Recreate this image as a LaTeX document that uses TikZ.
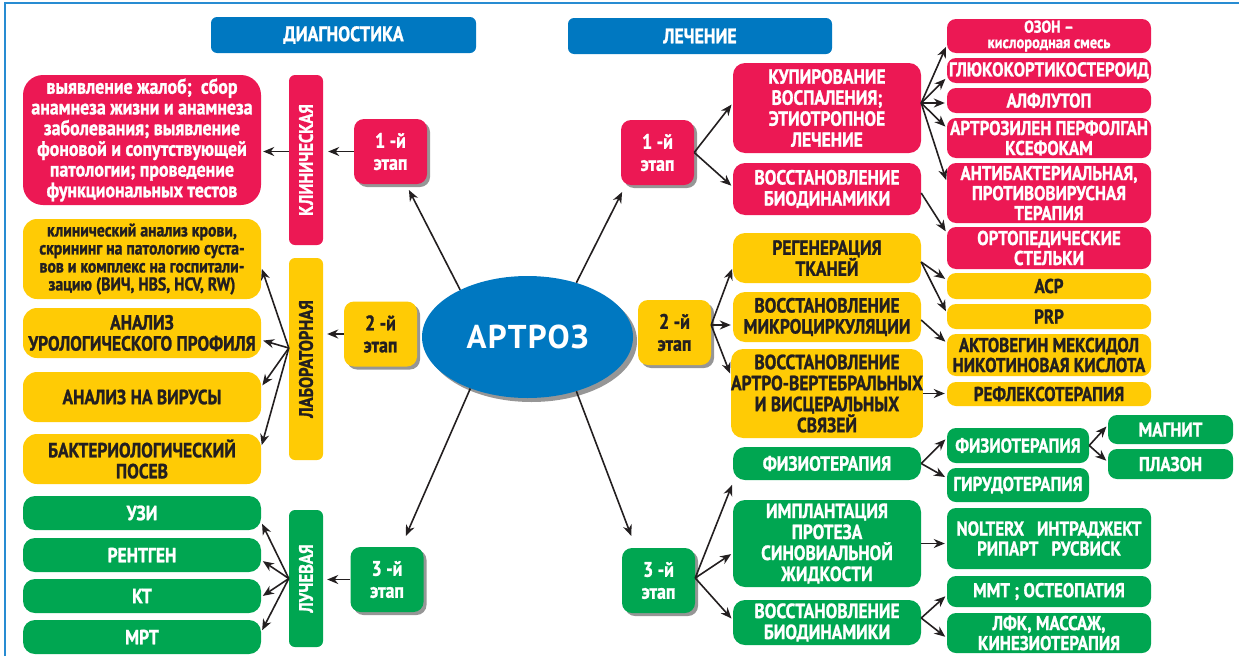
\documentclass[tikz,border=0pt]{standalone}
\usepackage{fontspec}
\setmainfont{PT Sans}[FakeStretch=0.85, BoldFeatures={FakeBold=1.2}]
\newfontfamily\widefont{PT Sans}[LetterSpace=4]
\usepackage{graphicx}
\usepackage{tikz}
\usetikzlibrary{arrows.meta,positioning,calc,shadows,shapes.geometric}
\definecolor{artred}{RGB}{236,24,84}
\definecolor{artyellow}{RGB}{255,203,5}
\definecolor{artgreen}{RGB}{0,166,81}
\definecolor{artblue}{RGB}{0,120,193}
\definecolor{artframe}{RGB}{40,140,210}
\definecolor{artdark}{RGB}{35,31,32}
\definecolor{shadowgray}{RGB}{150,150,150}
\tikzset{
  tbox/.style={
    rectangle, rounded corners=10pt, inner sep=0pt, align=center,
    font=\bfseries\fontsize{20.5}{21}\selectfont
  },
  redbox/.style={tbox, fill=artred, text=white},
  yelbox/.style={tbox, fill=artyellow, text=artdark},
  grnbox/.style={tbox, fill=artgreen, text=white},
  hdrbox/.style={
    rectangle, rounded corners=6pt, fill=artblue, text=white, inner sep=0pt,
    font=\bfseries\fontsize{21}{22}\selectfont
  },
  stagebox/.style={
    rectangle, rounded corners=10pt, minimum width=73pt, minimum height=65pt,
    inner sep=0pt, align=center, font=\bfseries\fontsize{21}{22}\selectfont,
    drop shadow={shadow xshift=3pt, shadow yshift=-3pt, fill=shadowgray, opacity=1}
  },
  vbar/.style={
    rectangle, rounded corners=6pt, minimum width=34pt, inner sep=0pt,
    font=\bfseries\fontsize{19.5}{20}\selectfont
  },
  colbox/.style={minimum width=188pt, rounded corners=12pt},
  sidebox/.style={minimum width=204pt, rounded corners=9pt, font=\bfseries\fontsize{20}{20}\selectfont},
  arr/.style={-{Stealth[length=11pt,width=9pt,inset=3.5pt]}, line width=1.6pt, draw=artdark, shorten >=2pt}
}
\begin{document}
\begin{tikzpicture}[x=1pt,y=-1pt]
\useasboundingbox (0,0) rectangle (1239,656);

% ---- frame ----
\draw[artframe, line width=2.5pt] (5,656) -- (5,3) -- (1239,3);

% ---- headers ----
\node[hdrbox, minimum width=265pt, minimum height=36pt] (Diag) at (343.5,35) {ДИАГНОСТИКА};
\node[hdrbox, minimum width=264pt, minimum height=36pt] (Treat) at (700,36) {ЛЕЧЕНИЕ};

% ---- Artroz (center) ----
\node[ellipse, fill=artblue, text=white, minimum width=211pt, minimum height=122pt, inner sep=0pt,
  drop shadow={shadow xshift=4pt, shadow yshift=-4pt, fill=shadowgray, opacity=1},
  font=\widefont\bfseries\fontsize{33}{34}\selectfont] (Artroz) at (527.5,337) {АРТРОЗ};

% ---- diagnostic stages ----
\node[stagebox, fill=artred, text=white] (StageDA) at (390.5,151.5) {1 -й\\этап};
\node[stagebox, fill=artyellow, text=artdark] (StageDB) at (380.5,334) {2 -й\\этап};
\node[stagebox, fill=artgreen, text=white] (StageDC) at (387,579.5) {3 -й\\этап};

\node[vbar, fill=artred, text=white, minimum height=170pt] (ClinBar) at (306,160) {\rotatebox{90}{КЛИНИЧЕСКАЯ}};
\node[vbar, fill=artyellow, text=artdark, minimum height=202pt] (LabBar) at (306,359) {\rotatebox{90}{ЛАБОРАТОРНАЯ}};
\node[vbar, fill=artgreen, text=white, minimum height=137pt] (RayBar) at (306,578.5) {\rotatebox{90}{ЛУЧЕВАЯ}};

\node[redbox, minimum width=238pt, minimum height=130pt, rounded corners=20pt,
  font=\bfseries\fontsize{21}{20.7}\selectfont] (Clin) at (142,140) {
  выявление жалоб;\ \ сбор\\
  анамнеза жизни и анамнеза\\
  заболевания; выявление\\
  фоновой и сопутствующей\\
  патологии; проведение\\
  функциональных тестов};

\node[yelbox, minimum width=238pt, minimum height=80pt, rounded corners=14pt,
  font=\bfseries\fontsize{18.5}{18}\selectfont] (LabA) at (142,259) {
  клинический анализ крови,\\
  скрининг на патологию суста-\\
  вов и комплекс на госпитали-\\
  зацию (ВИЧ, HBS, HCV, RW)};
\node[yelbox, minimum width=238pt, minimum height=50pt, rounded corners=14pt] (LabB) at (142,333) {АНАЛИЗ\\УРОЛОГИЧЕСКОГО ПРОФИЛЯ};
\node[yelbox, minimum width=238pt, minimum height=50pt, rounded corners=14pt] (LabC) at (142,397) {АНАЛИЗ НА ВИРУСЫ};
\node[yelbox, minimum width=238pt, minimum height=50pt, rounded corners=14pt] (LabD) at (142,459) {БАКТЕРИОЛОГИЧЕСКИЙ\\ПОСЕВ};

\node[grnbox, minimum width=238pt, minimum height=34pt, rounded corners=12pt] (RayA) at (142,513) {УЗИ};
\node[grnbox, minimum width=238pt, minimum height=34pt, rounded corners=12pt] (RayB) at (142,555) {РЕНТГЕН};
\node[grnbox, minimum width=238pt, minimum height=34pt, rounded corners=12pt] (RayC) at (142,596) {КТ};
\node[grnbox, minimum width=238pt, minimum height=34pt, rounded corners=12pt] (RayD) at (142,637) {МРТ};

% ---- treatment stages ----
\node[stagebox, fill=artred, text=white] (StageTA) at (657.5,152.5) {1 -й\\этап};
\node[stagebox, fill=artyellow, text=artdark] (StageTB) at (674.5,332.5) {2 -й\\этап};
\node[stagebox, fill=artgreen, text=white] (StageTC) at (658.5,580.5) {3 -й\\этап};

\node[redbox, colbox, minimum height=90pt] (Kup) at (827,108) {КУПИРОВАНИЕ\\ВОСПАЛЕНИЯ;\\ЭТИОТРОПНОЕ\\ЛЕЧЕНИЕ};
\node[redbox, colbox, minimum height=52pt] (BioRed) at (827,189) {ВОССТАНОВЛЕНИЕ\\БИОДИНАМИКИ};
\node[yelbox, colbox, minimum height=50pt] (Regen) at (827,258) {РЕГЕНЕРАЦИЯ\\ТКАНЕЙ};
\node[yelbox, colbox, minimum height=50pt] (Micro) at (827,317) {ВОССТАНОВЛЕНИЕ\\МИКРОЦИРКУЛЯЦИИ};
\node[yelbox, colbox, minimum height=89pt] (ArtVis) at (827,393.5) {ВОССТАНОВЛЕНИЕ\\АРТРО-ВЕРТЕБРАЛЬНЫХ\\И ВИСЦЕРАЛЬНЫХ\\СВЯЗЕЙ};
\node[grnbox, colbox, minimum height=33pt] (PhysBig) at (827,463.5) {ФИЗИОТЕРАПИЯ};
\node[grnbox, colbox, minimum height=87pt] (Implant) at (827,543.5) {ИМПЛАНТАЦИЯ\\ПРОТЕЗА\\СИНОВИАЛЬНОЙ\\ЖИДКОСТИ};
\node[grnbox, colbox, minimum height=45pt] (BioGreen) at (827,622.5) {ВОССТАНОВЛЕНИЕ\\БИОДИНАМИКИ};

\node[redbox, sidebox, minimum height=34pt, font=\bfseries\fontsize{17}{15.5}\selectfont] (Ozone) at (1049,36) {ОЗОН –\\кислородная смесь};
\node[redbox, sidebox, minimum height=25pt] (Gluco) at (1049,70.5) {ГЛЮКОКОРТИКОСТЕРОИД};
\node[redbox, sidebox, minimum height=25pt] (Alflu) at (1049,100.5) {АЛФЛУТОП};
\node[redbox, sidebox, minimum height=40pt] (Artrozilen) at (1049,138) {АРТРОЗИЛЕН ПЕРФОЛГАН\\КСЕФОКАМ};
\node[redbox, sidebox, minimum height=60pt] (Antibac) at (1049,193) {АНТИБАКТЕРИАЛЬНАЯ,\\ПРОТИВОВИРУСНАЯ\\ТЕРАПИЯ};
\node[redbox, sidebox, minimum height=42pt] (Ortho) at (1049,248) {ОРТОПЕДИЧЕСКИЕ\\СТЕЛЬКИ};
\node[yelbox, sidebox, minimum height=26pt] (Acp) at (1049,286) {АСР};
\node[yelbox, sidebox, minimum height=25pt] (Prp) at (1049,316.5) {PRP};
\node[yelbox, sidebox, minimum height=42pt] (Actov) at (1049,355) {АКТОВЕГИН МЕКСИДОЛ\\НИКОТИНОВАЯ КИСЛОТА};
\node[yelbox, sidebox, minimum height=24pt] (Reflex) at (1049,394) {РЕФЛЕКСОТЕРАПИЯ};
\node[grnbox, sidebox, minimum width=142pt, minimum height=35pt] (PhysSmall) at (1018,445.5) {ФИЗИОТЕРАПИЯ};
\node[grnbox, sidebox, minimum width=142pt, minimum height=34pt] (Hirudo) at (1018,485) {ГИРУДОТЕРАПИЯ};
\node[grnbox, sidebox, minimum width=125pt, minimum height=29pt] (Magnet) at (1170.5,429.5) {МАГНИТ};
\node[grnbox, sidebox, minimum width=125pt, minimum height=30pt] (Plazon) at (1170.5,464) {ПЛАЗОН};
\node[grnbox, sidebox, minimum height=61pt] (Nolterx) at (1049,538.5) {NOLTERX\ \ \ ИНТРАДЖЕКТ\\РИПАРТ\ \ \ РУСВИСК};
\node[grnbox, sidebox, minimum height=31pt] (Mmt) at (1049,591.5) {ММТ ; ОСТЕОПАТИЯ};
\node[grnbox, sidebox, minimum height=40pt] (Lfk) at (1049,633) {ЛФК, МАССАЖ,\\КИНЕЗИОТЕРАПИЯ};

% ---- fan origins ----
\coordinate (LabFan) at ($(LabBar.west)+(0,-11)$);
\coordinate (KupFan) at ($(Kup.east)+(0,-5)$);
\coordinate (TBFan) at ($(StageTB.east)+(0,-7.5)$);
\coordinate (TCFan) at ($(StageTC.east)+(0,-2.5)$);
\coordinate (RegFan) at ($(Regen.east)+(0,4)$);
\coordinate (BioFan) at ($(BioGreen.east)+(0,-4.5)$);

% ---- from the center ----
\draw[arr] (Artroz.145) -- ($(StageDA.south)+(17.5,4)$);
\draw[arr] (Artroz.222) -- ($(StageDC.north)+(18,-9)$);
\draw[arr] (Artroz.48) -- ($(StageTA.south)+(-34.5,5)$);
\draw[arr] (Artroz.312) -- ($(StageTC.north)+(-26.5,-10)$);

% ---- diagnostics ----
\draw[arr, shorten >=5pt] (StageDA.west) -- (StageDA.west -| ClinBar.east);
\draw[arr] (ClinBar.west |- StageDA.west) -- (Clin.east |- StageDA.west);
\draw[arr, shorten >=4pt] (StageDB.west) -- (StageDB.west -| LabBar.east);
\draw[arr] (LabFan) -- ($(LabA.east)+(0,8)$);
\draw[arr] (LabFan) -- ($(LabB.east)+(0,7)$);
\draw[arr] (LabFan) -- ($(LabC.east)+(0,-10)$);
\draw[arr] (LabFan) -- ($(LabD.east)+(0,-12)$);
\draw[arr, shorten >=4pt] (StageDC.west) -- (StageDC.west -| RayBar.east);
\draw[arr] (RayBar.west) -- ($(RayA.east)+(0,9)$);
\draw[arr] (RayBar.west) -- ($(RayB.east)+(0,5)$);
\draw[arr] (RayBar.west) -- ($(RayC.east)+(0,1)$);
\draw[arr] (RayBar.west) -- ($(RayD.east)+(0,-5)$);

% ---- treatment, stage 1 ----
\draw[arr] (StageTA.east) -- ($(Kup.west)+(0,-5)$);
\draw[arr] (StageTA.east) -- ($(BioRed.west)+(0,-2)$);
\draw[arr] (KupFan) -- ($(Ozone.west)+(0,9)$);
\draw[arr] (KupFan) -- ($(Gluco.west)+(0,7)$);
\draw[arr] (KupFan) -- ($(Alflu.west)+(0,2.5)$);
\draw[arr] (KupFan) -- ($(Artrozilen.west)+(0,-10)$);
\draw[arr] (KupFan) -- ($(Antibac.west)+(0,-11)$);
\draw[arr] ($(BioRed.east)+(0,4)$) -- ($(Ortho.west)+(0,-15)$);

% ---- treatment, stage 2 ----
\draw[arr] (TBFan) -- ($(Regen.west)+(0,9)$);
\draw[arr] (TBFan) -- ($(Micro.west)+(0,8)$);
\draw[arr] (TBFan) -- ($(ArtVis.west)+(0,-18)$);
\draw[arr] (RegFan) -- ($(Acp.west)+(0,-6)$);
\draw[arr] (RegFan) -- ($(Prp.west)+(0,-3.5)$);
\draw[arr] ($(Micro.east)+(0,3)$) -- ($(Actov.west)+(0,-12)$);
\draw[arr] (ArtVis.east) -- (ArtVis.east -| Reflex.west);

% ---- treatment, stage 3 ----
\draw[arr] (TCFan) -- ($(PhysBig.west)+(0,19.5)$);
\draw[arr] (TCFan) -- ($(Implant.west)+(0,9.5)$);
\draw[arr] (TCFan) -- ($(BioGreen.west)+(0,-2.5)$);
\draw[arr] (PhysBig.east) -- ($(PhysSmall.west)+(0,-7.5)$);
\draw[arr] (PhysBig.east) -- ($(Hirudo.west)+(0,-7)$);
\draw[arr] (PhysSmall.east) -- ($(Magnet.west)+(0,-4.5)$);
\draw[arr] (PhysSmall.east) -- ($(Plazon.west)+(0,-2)$);
\draw[arr] (Implant.east) -- (Implant.east -| Nolterx.west);
\draw[arr] (BioFan) -- ($(Mmt.west)+(0,3.5)$);
\draw[arr] (BioFan) -- ($(Lfk.west)+(0,5)$);

\end{tikzpicture}
\end{document}
